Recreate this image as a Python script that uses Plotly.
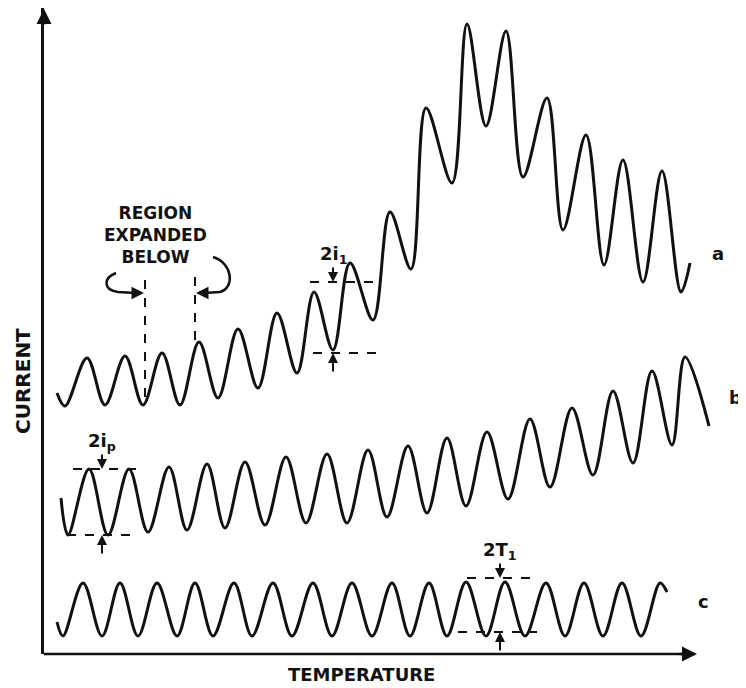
import plotly.graph_objects as go

# ---- data (temperature in arbitrary units, current in arbitrary units) ----
a_x = [57, 65, 87, 105, 125, 143, 162, 180, 199, 218, 238, 258, 277, 297, 314, 333, 350, 373,
       390, 411, 426, 452, 467, 486, 506, 523, 547, 563, 586, 604, 623, 643, 662, 681, 690]
a_y = [295, 282, 330, 283, 332, 283, 335, 283, 346, 290, 359, 300, 375, 315, 396, 338, 425, 368,
       476, 419, 580, 505, 664, 562, 657, 511, 590, 458, 553, 423, 528, 406, 517, 396, 425]

b_x = [61, 68, 89, 108, 129, 148, 169, 187, 207, 225, 245, 265, 286, 306, 327, 347, 368, 387,
       408, 427, 447, 466, 487, 508, 530, 550, 572, 593, 613, 633, 652, 672, 685, 709]
b_y = [190, 153, 219, 153, 219, 156, 221, 158, 224, 160, 226, 163, 231, 165, 234, 165, 238, 171,
       242, 175, 250, 182, 256, 189, 269, 201, 280, 213, 297, 225, 317, 243, 331, 262]

c_x = [57, 63, 83, 102, 120, 138, 157, 177, 195, 213, 234, 252, 273, 292, 313, 332, 352, 372,
       392, 410, 429, 447, 466, 486, 505, 525, 546, 565, 584, 603, 622, 641, 660, 667]
c_y = [66, 52, 105, 52, 105, 52, 105, 52, 105, 52, 105, 52, 105, 52, 105, 52, 105, 52,
       105, 52, 105, 52, 106, 52, 106, 52, 105, 52, 105, 52, 105, 52, 105, 96]

curve_labels = ["a", "b", "c"]
label_pos = [(718, 434), (735, 291), (703, 87)]

# measurement markers: (label, x_arrow, top_y, bottom_y, top_x0, top_x1, bot_x0, bot_x1)
measures = [
    ("2i<sub>p</sub>", 102, 219, 153, 73, 138, 67, 132),
    ("2i<sub>1</sub>", 333, 406, 335, 310, 382, 313, 382),
    ("2T<sub>1</sub>", 500, 110, 56, 467, 533, 458, 537),
]

# region-expanded markers (x positions, top, bottom)
region_x = [145, 195]
region_top = [408, 411]
region_bottom = [283, 346]

X0, X1 = 44, 714       # plotting area (temperature units)
X_AXIS_END = 695       # where the drawn temperature axis ends
Y0, Y1 = 34, 680

INK = "#111111"
FONT = "DejaVu Sans"


def paper_x(v):
    return (v - X0) / (X1 - X0)


def paper_y(v):
    return (v - Y0) / (Y1 - Y0)


fig = go.Figure()
for xs, ys in [(a_x, a_y), (b_x, b_y), (c_x, c_y)]:
    fig.add_trace(go.Scatter(x=xs, y=ys, mode="lines",
                             line=dict(color=INK, width=3, shape="spline", smoothing=1.0),
                             hoverinfo="skip", showlegend=False))

shapes = []
annotations = []


def arrow(xt, yt, xs, ys, width=2, size=1.0):
    annotations.append(dict(x=paper_x(xt), y=paper_y(yt), ax=xs - xt, ay=-(ys - yt),
                            xref="paper", yref="paper", axref="pixel", ayref="pixel",
                            xanchor="center", yanchor="middle",
                            text="", showarrow=True, arrowhead=2, arrowsize=size,
                            arrowwidth=width, arrowcolor=INK))


def text(xv, yv, s, size, yanchor="middle", **kw):
    annotations.append(dict(x=paper_x(xv), y=paper_y(yv), xref="paper", yref="paper",
                            text=s, showarrow=False, xanchor="center", yanchor=yanchor,
                            font=dict(family=FONT, size=size, color=INK), **kw))


# temperature axis line (ends before the right edge of the plotting area)
shapes.append(dict(type="line", xref="paper", yref="paper", x0=0, x1=paper_x(X_AXIS_END),
                   y0=0, y1=0, line=dict(color=INK, width=2.5)))

for (lab, xa, ty, by, tx0, tx1, bx0, bx1) in measures:
    shapes.append(dict(type="line", xref="x", yref="y", x0=tx0, x1=tx1, y0=ty, y1=ty,
                       line=dict(color=INK, width=2, dash="dash")))
    shapes.append(dict(type="line", xref="x", yref="y", x0=bx0, x1=bx1, y0=by, y1=by,
                       line=dict(color=INK, width=2, dash="dash")))
    arrow(xa, ty, xa, ty + 16)
    arrow(xa, by, xa, by - 20)
    text(xa, ty + 13, "<b>" + lab + "</b>", 18, yanchor="bottom")

for xv, t, b in zip(region_x, region_top, region_bottom):
    shapes.append(dict(type="line", xref="x", yref="y", x0=xv, x1=xv, y0=t, y1=b,
                       line=dict(color=INK, width=2, dash="dash")))

# curly arrows
shapes.append(dict(type="path", xref="x", yref="y",
                   path="M 116,415 C 103,410 103,398 118,396 L 136,395",
                   line=dict(color=INK, width=2.5)))
shapes.append(dict(type="path", xref="x", yref="y",
                   path="M 213,431 C 233,425 235,400 220,396 L 204,395",
                   line=dict(color=INK, width=2.5)))
arrow(144, 395, 132, 395, width=2.5)
arrow(196, 395, 208, 395, width=2.5)
text(155, 453, "<b>REGION<br>EXPANDED<br>BELOW</b>", 17, align="center")

for lab, (lx, ly) in zip(curve_labels, label_pos):
    text(lx, ly, "<b>" + lab + "</b>", 18)

# axis titles and arrow heads
text(23, 307, "<b>CURRENT</b>", 20, textangle=-90)
text(361, 14, "<b>TEMPERATURE</b>", 18)
arrow(44, 679, 44, 662, width=2.5, size=1.2)
arrow(697, 34, 678, 34, width=2.5, size=1.2)

fig.update_layout(
    width=738, height=680,
    margin=dict(l=36, r=738 - 36 - (X1 - X0), t=0, b=34),
    paper_bgcolor="white", plot_bgcolor="white",
    xaxis=dict(range=[X0, X1], showgrid=False, zeroline=False, showticklabels=False,
               ticks="", showline=False, fixedrange=True),
    yaxis=dict(range=[Y0, Y1], showgrid=False, zeroline=False, showticklabels=False,
               ticks="", showline=True, linecolor=INK, linewidth=2.5, fixedrange=True),
    shapes=shapes, annotations=annotations,
    showlegend=False,
)

fig.write_html("out.html")
